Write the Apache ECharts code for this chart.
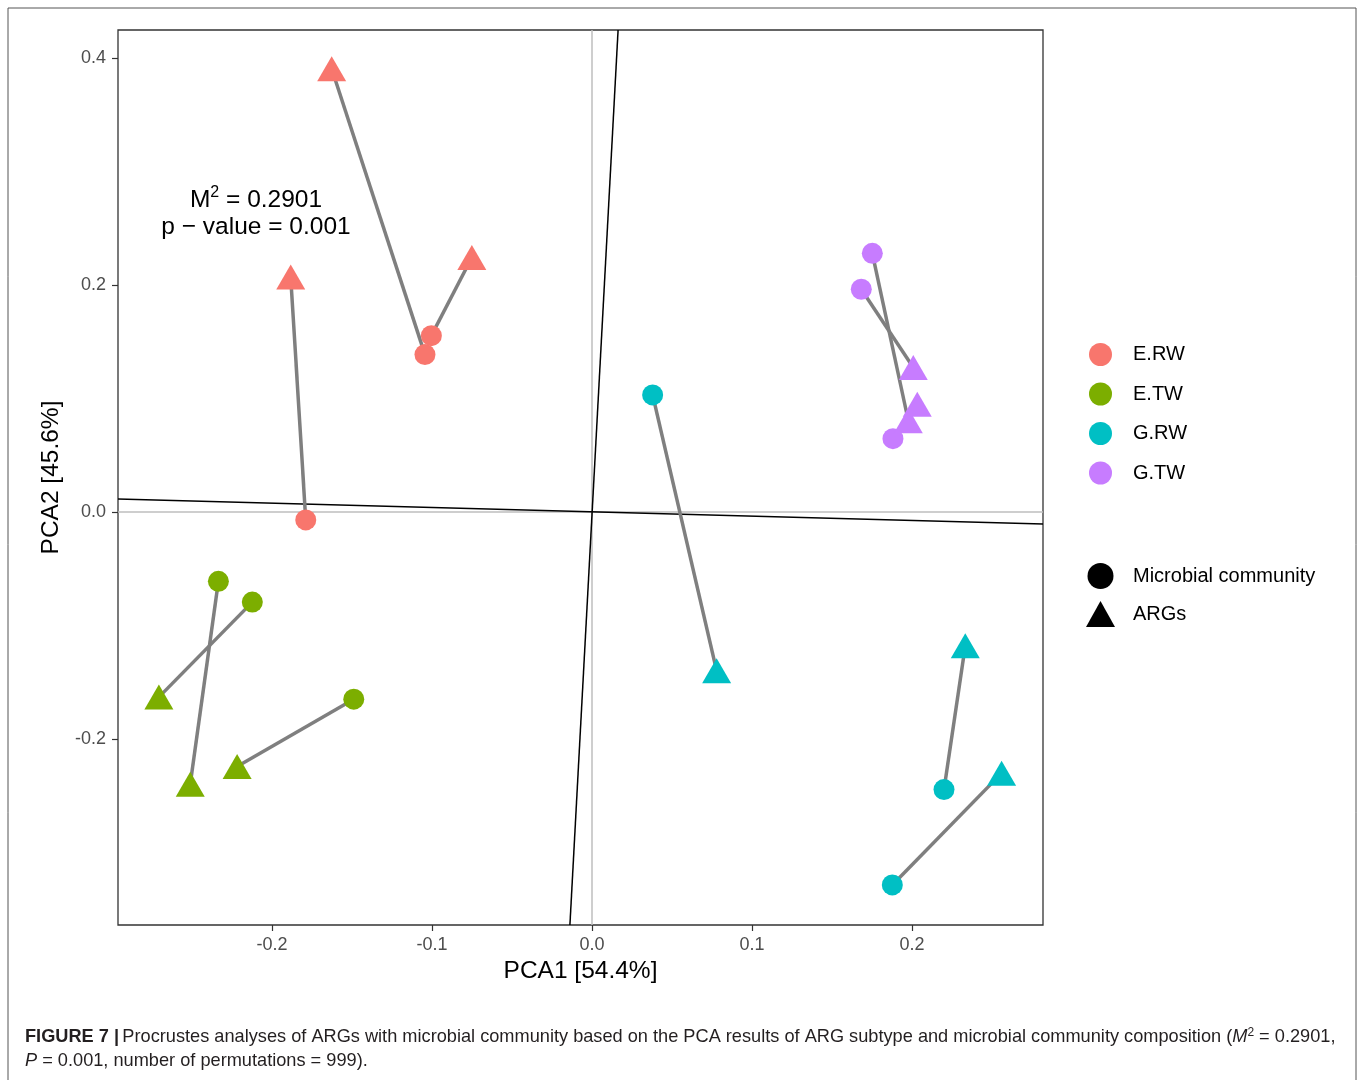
<!DOCTYPE html>
<html><head><meta charset="utf-8">
<script src="https://cdn.jsdelivr.net/npm/echarts@6/dist/echarts.min.js"></script>
<style>html,body{margin:0;padding:0;background:#fff}#c{width:1358px;height:1080px}</style>
</head><body><div id="c"></div>
<script>
// ---- data ----
const groups = ['E.RW', 'E.TW', 'G.RW', 'G.TW'];
const groupColors = ['#F8766D', '#7CAE00', '#00BFC4', '#C77CFF'];
// microbial community (circles) and ARGs (triangles); same index = paired sample
const erwMicrobial = [[-0.1044, 0.1387], [-0.1004, 0.1554], [-0.1789, -0.0070]];
const erwARGs      = [[-0.1627, 0.3906], [-0.0751, 0.2243], [-0.1883, 0.2070]];
const etwMicrobial = [[-0.2335, -0.0611], [-0.2123, -0.0794], [-0.1489, -0.1649]];
const etwARGs      = [[-0.2511, -0.2398], [-0.2707, -0.1631], [-0.2218, -0.2242]];
const grwMicrobial = [[0.0379, 0.1032], [0.2200, -0.2446], [0.1877, -0.3286]];
const grwARGs      = [[0.0779, -0.1399], [0.2333, -0.1179], [0.2560, -0.2301]];
const gtwMicrobial = [[0.1752, 0.2279], [0.1683, 0.1963], [0.1881, 0.0646]];
const gtwARGs      = [[0.1977, 0.0804], [0.2008, 0.1273], [0.2033, 0.0950]];
// procrustes rotation axes (endpoints, data units)
const rotationAxis1 = [[-0.29625, 0.0115], [0.281875, -0.0106]];
const rotationAxis2 = [[0.0163, 0.4247], [-0.0138, -0.3639]];
const xRange = [-0.29625, 0.281875];
const yRange = [-0.3639, 0.4247];
const xTicks = [-0.2, -0.1, 0.0, 0.1, 0.2];
const yTicks = [-0.2, 0.0, 0.2, 0.4];
const shapeNames = ['Microbial community', 'ARGs'];
const statM2 = '0.2901';
const statP = '0.001';

const microbial = [erwMicrobial, etwMicrobial, grwMicrobial, gtwMicrobial];
const args = [erwARGs, etwARGs, grwARGs, gtwARGs];

const FONT = 'Liberation Sans, Arial, sans-serif';
const CAP = 'Liberation Sans, Arial, sans-serif';
const series = [];
// reference lines at 0
series.push({type:'line', data:[[0, yRange[0]], [0, yRange[1]]], symbol:'none', silent:true,
  lineStyle:{color:'#bebebe', width:1.5}, z:1});
series.push({type:'line', data:[[xRange[0], 0], [xRange[1], 0]], symbol:'none', silent:true,
  lineStyle:{color:'#bebebe', width:1.5}, z:1});
// rotation axes
series.push({type:'line', data:rotationAxis1, symbol:'none', silent:true, lineStyle:{color:'#000', width:1.5}, z:2});
series.push({type:'line', data:rotationAxis2, symbol:'none', silent:true, lineStyle:{color:'#000', width:1.5}, z:2});
// segments
groups.forEach((g, gi) => {
  microbial[gi].forEach((p, i) => {
    series.push({type:'line', data:[p, args[gi][i]], symbol:'none', silent:true,
      lineStyle:{color:'#7f7f7f', width:3.5}, z:3});
  });
});
// points
groups.forEach((g, gi) => {
  series.push({type:'scatter', name:g, data:microbial[gi], symbol:'circle', symbolSize:21,
    itemStyle:{color:groupColors[gi], opacity:1}, z:5});
  series.push({type:'scatter', name:g, data:args[gi], symbol:'triangle', symbolSize:[29, 25],
    itemStyle:{color:groupColors[gi], opacity:1}, z:5});
});
// shape legend dummies
series.push({type:'scatter', name:shapeNames[0], data:[], symbol:'circle', itemStyle:{color:'#000', opacity:1}});
series.push({type:'scatter', name:shapeNames[1], data:[], symbol:'triangle', itemStyle:{color:'#000', opacity:1}});

const option = {
  animation:false,
  backgroundColor:'#fff',
  grid:{left:118, right:315, top:30, bottom:155, show:true, borderColor:'#333', borderWidth:1.3, backgroundColor:'transparent'},
  xAxis:{type:'value', min:xRange[0], max:xRange[1],
    name:'PCA1 [54.4%]', nameLocation:'middle', nameGap:33,
    nameTextStyle:{fontFamily:FONT, fontSize:24.5, color:'#000'},
    axisLine:{show:false, onZero:false}, splitLine:{show:false},
    axisTick:{show:true, length:6, lineStyle:{color:'#333', width:1.2}, customValues:xTicks},
    axisLabel:{margin:11, fontFamily:FONT, fontSize:18, color:'#4d4d4d', customValues:xTicks,
      formatter:v => v.toFixed(1)}},
  yAxis:{type:'value', min:yRange[0], max:yRange[1],
    name:'PCA2 [45.6%]', nameLocation:'middle', nameGap:52,
    nameTextStyle:{fontFamily:FONT, fontSize:24.5, color:'#000'},
    axisLine:{show:false, onZero:false}, splitLine:{show:false},
    axisTick:{show:true, length:6, lineStyle:{color:'#333', width:1.2}, customValues:yTicks},
    axisLabel:{margin:12, fontFamily:FONT, fontSize:18, color:'#4d4d4d', customValues:yTicks,
      formatter:v => v.toFixed(1)}},
  legend:[
    {orient:'vertical', left:1084, top:338, itemWidth:23, itemHeight:23, itemGap:16.5,
      selectedMode:false, icon:'circle',
      data:groups.map((g, i) => ({name:g, icon:'circle', itemStyle:{color:groupColors[i]}})),
      textStyle:{fontFamily:FONT, fontSize:20, color:'#000', padding:[0,0,0,16]}},
    {orient:'vertical', left:1081, top:558, itemWidth:29, itemHeight:26, itemGap:12,
      selectedMode:false,
      data:[{name:shapeNames[0], icon:'circle', itemStyle:{color:'#000', opacity:1}},
            {name:shapeNames[1], icon:'triangle', itemStyle:{color:'#000', opacity:1}}],
      textStyle:{fontFamily:FONT, fontSize:20, color:'#000', padding:[0,0,0,13]}}
  ],
  graphic:[
    {type:'rect', shape:{x:8, y:8, width:1348, height:1100}, style:{fill:'none', stroke:'#555', lineWidth:1}, silent:true, z:-1},
    {type:'text', x:256, y:185, style:{
      text:'{m|M}{sup|2}{m| = ' + statM2 + '}', align:'center',
      rich:{m:{fontFamily:FONT, fontSize:24.5, color:'#000', verticalAlign:'bottom'},
            sup:{fontFamily:FONT, fontSize:16, color:'#000', verticalAlign:'top', padding:[0,0,12,0]}}}},
    {type:'text', x:256, y:215, style:{text:'p \u2212 value = ' + statP, align:'center',
      fontFamily:FONT, fontSize:24.5, fill:'#000'}},
    {type:'text', x:25, y:1027, style:{
      text:'{b|FIGURE 7 |} {n|Procrustes analyses of ARGs with microbial community based on the PCA results of ARG subtype and microbial community composition (}{i|M}{s|2}{n| = 0.2901,}',
      rich:{b:{fontFamily:CAP, fontWeight:'bold', fontSize:18.2, fill:'#231f20'},
            n:{fontFamily:CAP, fontSize:18.2, fill:'#231f20'},
            i:{fontFamily:CAP, fontStyle:'italic', fontSize:18.2, fill:'#231f20'},
            s:{fontFamily:CAP, fontSize:12, fill:'#231f20', verticalAlign:'top', padding:[0,0,8,0]}}}},
    {type:'text', x:25, y:1052, style:{
      text:'{i|P}{n| = 0.001, number of permutations = 999).}',
      rich:{n:{fontFamily:CAP, fontSize:18.2, fill:'#231f20'},
            i:{fontFamily:CAP, fontStyle:'italic', fontSize:18.2, fill:'#231f20'}}}}
  ],
  series:series
};
const chart = echarts.init(document.getElementById('c'), null, {renderer:'canvas'});
chart.setOption(option);
</script></body></html>
